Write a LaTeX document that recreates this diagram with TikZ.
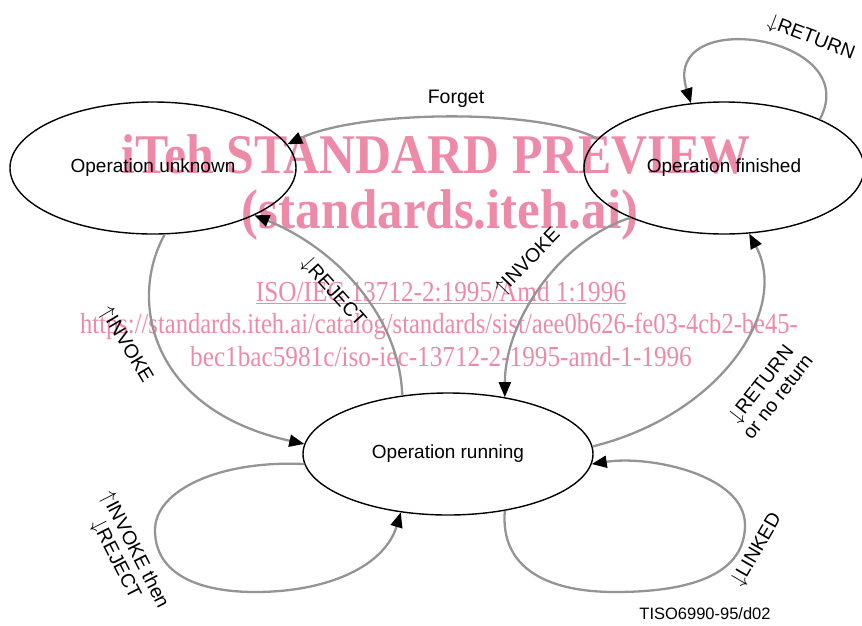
\documentclass[tikz,border=0pt]{standalone}
\usepackage{fontspec}
\setmainfont{Liberation Sans}
\newfontfamily\wmfont{Liberation Serif}
\usetikzlibrary{shapes.geometric,arrows.meta}
\definecolor{wmpink}{RGB}{236,138,168}
\newcommand{\dn}{$\downarrow$}
\newcommand{\up}{$\uparrow$}

\begin{document}
\begin{tikzpicture}[x=1pt,y=-1pt,
   state/.style={draw,ellipse,line width=1.4pt,inner sep=0pt,font=\fontsize{19}{22}\selectfont},
   trans/.style={draw=black!42,line width=2.3pt,-{Triangle[length=15pt,width=12pt,color=black]}},
   lbl/.style={font=\fontsize{19.5}{21}\selectfont,align=center,inner sep=0pt},
   wmbig/.style={text=wmpink,inner sep=0pt,font=\wmfont\bfseries\fontsize{56}{60}\selectfont},
   wmsmall/.style={text=wmpink,inner sep=0pt,font=\wmfont\fontsize{29}{32}\selectfont}]
   \useasboundingbox (0,0) rectangle (862,625);
   \node[wmbig]   (wmone)   at (436,154) {\scalebox{.89}[1]{iTeh STANDARD PREVIEW}};
   \node[wmbig]   (wmtwo)   at (440,215) {\scalebox{.91}[1]{(standards.iteh.ai)}};
   \node[wmsmall] (wmthree) at (441,293) {\scalebox{.87}[1]{\underline{ISO/IEC 13712-2:1995/Amd 1:1996}}};
   \node[wmsmall] (wmfour)  at (439,326) {\scalebox{.847}[1]{https://standards.iteh.ai/catalog/standards/sist/aee0b626-fe03-4cb2-be45-}};
   \node[wmsmall] (wmfive)  at (441,357) {\scalebox{.87}[1]{bec1bac5981c/iso-iec-13712-2-1995-amd-1-1996}};

   \node[state,minimum width=286pt,minimum height=132pt] (unknown)  at (153,168) {Operation unknown};
   \node[state,minimum width=280pt,minimum height=132pt] (finished) at (724,168) {Operation finished};
   \node[state,minimum width=290pt,minimum height=122pt] (running)  at (448,454) {Operation running};

   \draw[trans] (finished.167) .. controls (540,108) and (360,110) .. (unknown.10);
   \draw[trans] (finished.27) .. controls (865,35) and (660,5) .. (finished.117);
   \draw[trans] (running.128) .. controls (400,320) and (340,250) .. (unknown.-25);
   \draw[trans] (unknown.-80) .. controls (128,300) and (150,410) .. (running.176);
   \draw[trans] (finished.208) .. controls (560,240) and (505,320) .. (running.45);
   \draw[trans] (running.3) .. controls (720,415) and (790,310) .. (finished.-69);
   \draw[trans] (running.-45) .. controls (500,570) and (550,592) .. (615,592)
                .. controls (700,592) and (745,570) .. (745,525)
                .. controls (745,475) and (650,455) .. (running.-4);
   \draw[trans] (running.184) .. controls (220,460) and (155,490) .. (155,530)
                .. controls (155,575) and (200,592) .. (255,592)
                .. controls (330,592) and (385,565) .. (running.-129);

   \node[lbl]            (lforget)  at (456,99)  {Forget};
   \node[lbl,rotate=-21] (lreturn)  at (811,38)  {\dn RETURN};
   \node[lbl,rotate=-48] (lreject)  at (333,292) {\dn REJECT};
   \node[lbl,rotate=-59] (linvokea) at (126,345) {\up INVOKE};
   \node[lbl,rotate=46]  (linvokeb) at (528,262) {\up INVOKE};
   \node[lbl,rotate=52]  (lnoret)   at (769,390) {\dn RETURN\\or no return};
   \node[lbl,rotate=60]  (llinked)  at (757,550) {\dn LINKED};
   \node[lbl,rotate=-63] (lthen)    at (125,555) {\up INVOKE then\\\dn REJECT};
   \node[font=\fontsize{16.5}{18}\selectfont,inner sep=0pt] (tiso) at (705,614) {TISO6990-95/d02};
\end{tikzpicture}
\end{document}
